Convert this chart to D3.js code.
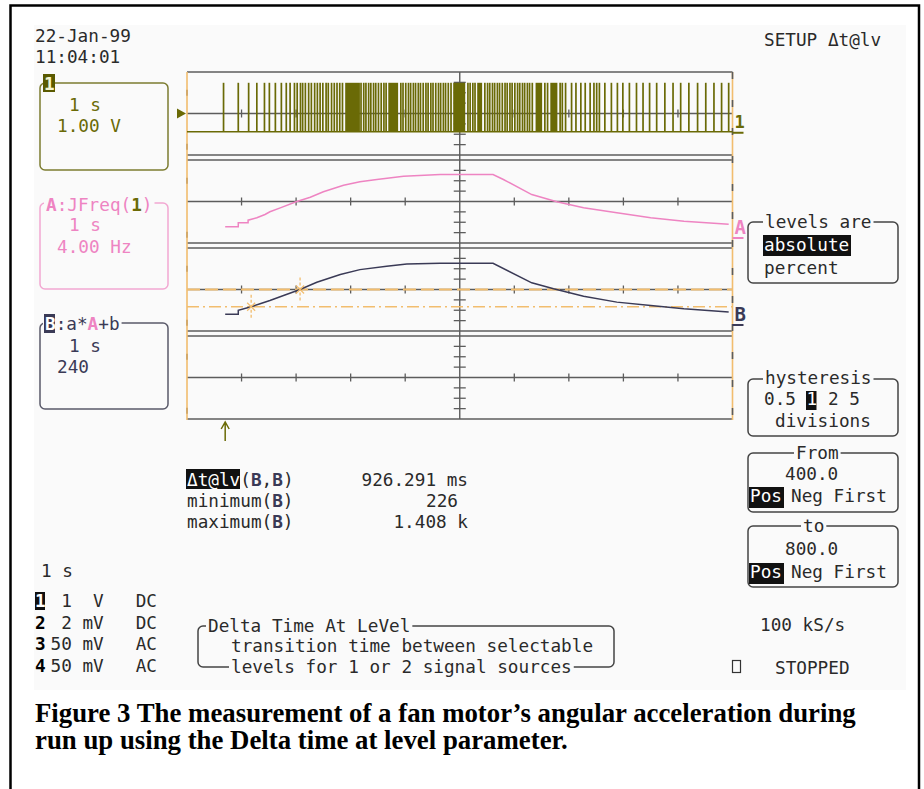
<!DOCTYPE html>
<html lang="en">
<head>
<meta charset="UTF-8">
<title>Fan motor run up - Delta time at level</title>
<script src="https://d3js.org/d3.v7.min.js"></script>
<style>
  body { margin: 0; background: #fff; }
  svg text { font-family: "DejaVu Sans Mono", monospace; font-size: 17.7px; fill: #2a2a2a; white-space: pre; }
  svg text.caption { font-family: "Liberation Serif", "Times New Roman", serif; font-weight: bold; font-size: 26.8px; fill: #000; }
</style>
</head>
<body>
<div id="chart"></div>
<script>
// channel 1: tacho pulses (time in s), solid bursts where pulses merge
const pulseTimes = [0.67, 0.94, 1.13, 1.28, 1.42, 1.51, 1.62, 1.73, 1.82, 1.89, 1.97, 2.02, 2.08, 2.12,
  2.17, 2.23, 2.28, 2.34, 2.39, 2.44, 2.49, 2.55, 2.59, 2.65, 2.70, 2.75, 2.80, 2.85,
  3.19, 3.24, 3.28, 3.33, 3.37, 3.42, 3.46, 3.51, 3.56, 3.61, 3.65,
  3.92, 3.96, 4.01, 4.06, 4.10, 4.15, 4.19, 4.24, 4.28, 4.33, 4.38, 4.42, 4.47, 4.51, 4.56,
  4.61, 4.65, 4.70, 4.74, 4.79, 4.84,
  5.15, 5.19, 5.24, 5.28, 5.46, 5.51, 5.55, 5.60, 5.64, 5.69, 5.73, 5.78, 5.83, 5.87,
  5.92, 5.96, 6.01, 6.06, 6.10, 6.15, 6.19, 6.24, 6.28, 6.33, 6.56, 6.61, 6.84, 6.88, 6.94,
  7.05, 7.13, 7.22, 7.30, 7.39, 7.46, 7.51, 7.56, 7.66, 7.78, 7.89, 7.99, 8.11, 8.24,
  8.36, 8.48, 8.61, 8.76, 8.91, 9.05, 9.20, 9.36, 9.51, 9.66, 9.80, 9.93];
const pulseBursts = [[2.90, 3.17], [3.69, 3.87], [4.88, 5.10], [5.32, 5.41], [6.39, 6.51], [6.66, 6.79]];
const pulseLow = -0.44;   // V
const pulseHigh = 0.74;   // V

// trace A: JFreq(1), Hz
const aTime = [0.70, 0.94, 0.94, 1.12, 1.12, 1.28, 1.43, 1.52, 1.71, 2.00, 2.26, 2.50, 2.87,
  3.17, 3.48, 3.97, 4.64, 5.61, 5.80, 6.32, 6.78, 7.27, 7.88, 8.50, 9.11, 9.93];
const aHz = [0.89, 0.89, 1.28, 1.28, 1.53, 1.76, 2.08, 2.34, 2.72, 3.30, 3.74, 4.27, 4.90,
  5.23, 5.45, 5.77, 5.93, 5.93, 5.45, 4.00, 3.30, 2.72, 2.24, 1.76, 1.43, 1.14];

// trace B: a*A+b
const bTime = [0.70, 0.94, 0.94, 1.16, 1.34, 1.52, 1.77, 2.06, 2.38, 2.81, 3.17, 3.66, 4.03,
  4.64, 5.61, 6.32, 6.72, 7.27, 7.88, 8.50, 9.11, 9.93];
const bVal = [226, 226, 317, 393, 471, 547, 662, 793, 968, 1145, 1260, 1336, 1391,
  1408, 1408, 954, 816, 646, 508, 432, 356, 278];

const levelFrom = 400;
const levelTo = 800;
const triggerTime = 0.70;

const measureNames = ["minimum", "maximum"];
const measureValues = ["226", "1.408 k"];
const deltaValue = "926.291 ms";

const chanRows = [
  { label: "1", value: " 1", unit: " V", coupling: "DC" },
  { label: "2", value: " 2", unit: "mV", coupling: "DC" },
  { label: "3", value: "50", unit: "mV", coupling: "AC" },
  { label: "4", value: "50", unit: "mV", coupling: "AC" }
];

// colours
const olive = "#6a6a06", pink = "#ee84c2", navy = "#3a3a56", orange = "#f2bd6e", grid = "#5c5c5c";

const W = 924, H = 789;
const svg = d3.select("#chart").append("svg").attr("width", W).attr("height", H);

// frame and screen
svg.append("rect").attr("x", 34).attr("y", 25).attr("width", 872).attr("height", 665).attr("fill", "#fafafa");
svg.append("rect").attr("x", 10.5).attr("y", 5.5).attr("width", 908.5).attr("height", 820)
  .attr("fill", "none").attr("stroke", "#000").attr("stroke-width", 2.5);

// scales
const x = d3.scaleLinear().domain([0, 10]).range([187, 732.5]);
const panel = d3.scaleBand().domain([0, 1, 2, 3]).range([72, 419]).paddingInner(5 / 88);
const bw = panel.bandwidth();
const pTop = i => panel(i), pBot = i => panel(i) + bw;
const y1 = d3.scaleLinear().domain([-1, 1]).range([pBot(0), pTop(0)]);
const yA = d3.scaleLinear().domain([-0.67, 7.33]).range([pBot(1), pTop(1)]);
const yB = d3.scaleLinear().domain([-160, 1760]).range([pBot(2), pTop(2)]);

const g = svg.append("g");

// grids
[0, 1, 2, 3].forEach(i => {
  const sub = d3.scaleLinear().domain([-1, 1]).range([pBot(i), pTop(i)]);
  const cy = sub(0);
  [pTop(i), pBot(i)].forEach(yy => {
    g.append("line").attr("x1", x(0)).attr("x2", x(10)).attr("y1", yy).attr("y2", yy)
      .attr("stroke", grid).attr("stroke-width", 1.6);
  });
  g.append("line").attr("x1", x(0)).attr("x2", x(10)).attr("y1", cy).attr("y2", cy)
    .attr("stroke", grid).attr("stroke-width", 1.3);
  x.ticks(10).filter(t => t > 0 && t < 10 && t !== 5).forEach(t => {
    g.append("line").attr("x1", x(t)).attr("x2", x(t)).attr("y1", cy - 4).attr("y2", cy + 4)
      .attr("stroke", grid).attr("stroke-width", 1.3);
  });
  [-0.75, -0.5, -0.25, 0.25, 0.5, 0.75].forEach(v => {
    g.append("line").attr("x1", x(5) - 6).attr("x2", x(5) + 6).attr("y1", sub(v)).attr("y2", sub(v))
      .attr("stroke", grid).attr("stroke-width", 1.3);
  });
  // small marks on left edge
  [-0.8, 0.5].forEach(v => {
    g.append("line").attr("x1", x(0)).attr("x2", x(0)).attr("y1", sub(v) - 3).attr("y2", sub(v) + 3)
      .attr("stroke", grid).attr("stroke-width", 2);
  });
});
g.append("line").attr("x1", x(5)).attr("x2", x(5)).attr("y1", pTop(0)).attr("y2", pBot(3))
  .attr("stroke", grid).attr("stroke-width", 1.4);

// orange side borders
[x(0), x(10)].forEach(xx => {
  g.append("line").attr("x1", xx).attr("x2", xx).attr("y1", pTop(0)).attr("y2", pBot(3) + 1)
    .attr("stroke", orange).attr("stroke-width", 1.6);
});
g.append("line").attr("x1", x(10)).attr("x2", x(10)).attr("y1", pTop(0)).attr("y2", pBot(3))
  .attr("stroke", grid).attr("stroke-width", 1.6).attr("stroke-dasharray", "7,21");

// channel 1 pulses
g.append("line").attr("x1", x(0)).attr("x2", x(10)).attr("y1", y1(pulseLow)).attr("y2", y1(pulseLow))
  .attr("stroke", olive).attr("stroke-width", 1.6);
g.selectAll(".pulse").data(pulseTimes).join("line").attr("class", "pulse")
  .attr("x1", d => x(d)).attr("x2", d => x(d))
  .attr("y1", y1(pulseLow)).attr("y2", y1(pulseHigh))
  .attr("stroke", olive).attr("stroke-width", 1.7);
g.selectAll(".burst").data(pulseBursts).join("rect").attr("class", "burst")
  .attr("x", d => x(d[0])).attr("width", d => x(d[1]) - x(d[0]))
  .attr("y", y1(pulseHigh)).attr("height", y1(pulseLow) - y1(pulseHigh))
  .attr("fill", olive);

// level lines on B
g.append("line").attr("x1", x(0)).attr("x2", x(10)).attr("y1", yB(levelTo)).attr("y2", yB(levelTo))
  .attr("stroke", orange).attr("stroke-width", 1.8).attr("stroke-dasharray", "13,5");
g.append("line").attr("x1", x(0)).attr("x2", x(10)).attr("y1", yB(levelFrom)).attr("y2", yB(levelFrom))
  .attr("stroke", orange).attr("stroke-width", 1.4).attr("stroke-dasharray", "12,4,2,4");

// traces
const lineA = d3.line().x((d, i) => x(aTime[i])).y(d => yA(d));
g.append("path").datum(aHz).attr("d", lineA).attr("fill", "none").attr("stroke", pink).attr("stroke-width", 1.5);
const lineB = d3.line().x((d, i) => x(bTime[i])).y(d => yB(d));
g.append("path").datum(bVal).attr("d", lineB).attr("fill", "none").attr("stroke", navy).attr("stroke-width", 1.5);

// level crossing markers (first rising crossing)
function crossTime(level) {
  for (let i = 0; i < bVal.length - 1; i++) {
    if (bVal[i] < level && bVal[i + 1] >= level) {
      return bTime[i] + (level - bVal[i]) / (bVal[i + 1] - bVal[i]) * (bTime[i + 1] - bTime[i]);
    }
  }
  return null;
}
[levelFrom, levelTo].forEach(lv => {
  const cx = x(crossTime(lv)), cy = yB(lv);
  g.append("line").attr("x1", cx).attr("x2", cx).attr("y1", cy - 12).attr("y2", cy + 12)
    .attr("stroke", orange).attr("stroke-width", 1.3).attr("stroke-dasharray", "3,2");
  g.append("path").attr("d", `M${cx - 4},${cy - 4}L${cx + 4},${cy + 4}M${cx - 4},${cy + 4}L${cx + 4},${cy - 4}`)
    .attr("stroke", orange).attr("stroke-width", 1.2);
});

// trigger markers
g.append("path").attr("d", `M${x(0) - 10},${y1(0) - 5}L${x(0) - 1},${y1(0)}L${x(0) - 10},${y1(0) + 5}Z`).attr("fill", olive);
const tx = x(triggerTime);
g.append("path").attr("d", `M${tx},${pBot(3) + 22}V${pBot(3) + 4}M${tx - 4},${pBot(3) + 10}L${tx},${pBot(3) + 3}L${tx + 4},${pBot(3) + 10}`)
  .attr("fill", "none").attr("stroke", olive).attr("stroke-width", 1.5);

// right-edge trace labels
const rx = x(10) + 2;
svg.append("text").attr("x", rx).attr("y", y1(0) + 14).text("1").attr("font-weight", "bold").style("fill", olive).style("font-size", "17px");
svg.append("line").attr("x1", x(10)).attr("x2", rx + 9).attr("y1", y1(pulseLow) + 1).attr("y2", y1(pulseLow) + 1).attr("stroke", olive).attr("stroke-width", 2);
svg.append("text").attr("x", rx).attr("y", 234).text("A").attr("font-weight", "bold").style("fill", pink).style("font-size", "19px");
svg.append("line").attr("x1", x(10)).attr("x2", rx + 9).attr("y1", 238).attr("y2", 238).attr("stroke", pink).attr("stroke-width", 2);
svg.append("text").attr("x", rx).attr("y", 321).text("B").attr("font-weight", "bold").style("fill", navy).style("font-size", "19px");
svg.append("line").attr("x1", x(10)).attr("x2", rx + 9).attr("y1", 325).attr("y2", 325).attr("stroke", navy).attr("stroke-width", 2);

// helpers
function txt(xx, yy, s, color) {
  const t = svg.append("text").attr("x", xx).attr("y", yy).text(s);
  if (color) t.style("fill", color);
  return t;
}
function hilite(xx, yy, w, h, color) {
  svg.append("rect").attr("x", xx).attr("y", yy).attr("width", w).attr("height", h).attr("fill", color || "#111");
}
function box(x0, y0, x1, y1b, color) {
  svg.append("rect").attr("x", x0).attr("y", y0).attr("width", x1 - x0).attr("height", y1b - y0)
    .attr("rx", 5).attr("fill", "none").attr("stroke", color).attr("stroke-width", 1.5);
}
function mask(textSel) {
  const b = textSel.node().getBBox();
  svg.insert("rect", () => textSel.node()).attr("x", b.x - 2).attr("y", b.y + 3).attr("width", b.width + 4)
    .attr("height", b.height - 6).attr("fill", "#fafafa");
  return textSel;
}

// header
txt(35, 42, "22-Jan-99");
txt(35, 63, "11:04:01");
txt(764, 46, "SETUP Δt@lv");

// channel 1 box
box(40, 83, 168, 170, "#7c7c30");
svg.append("rect").attr("x", 43).attr("y", 74).attr("width", 12).attr("height", 18).attr("fill", "#5a5a00");
txt(44, 90, "1", "#f4f4d0").attr("font-weight", "bold");
txt(69, 111, "1 s", olive);
txt(57, 132, "1.00 V", olive);

// A box
box(40, 203, 168, 289, "#f2a8d2");
const aTitle = svg.append("text").attr("x", 46).attr("y", 211);
aTitle.append("tspan").text("A").attr("font-weight", "bold").style("fill", pink);
aTitle.append("tspan").text(":JFreq(").style("fill", pink);
aTitle.append("tspan").text("1").attr("font-weight", "bold").style("fill", olive);
aTitle.append("tspan").text(")").style("fill", pink);
mask(aTitle);
txt(69, 231, "1 s", pink);
txt(57, 253, "4.00 Hz", pink);

// B box
box(40, 323, 168, 409, "#5a5a6a");
const bTitle = svg.append("text").attr("x", 45).attr("y", 330);
bTitle.append("tspan").text("B").attr("font-weight", "bold").style("fill", "#fff");
bTitle.append("tspan").text(":a*").style("fill", navy);
bTitle.append("tspan").text("A").attr("font-weight", "bold").style("fill", pink);
bTitle.append("tspan").text("+b").style("fill", navy);
mask(bTitle);
svg.insert("rect", () => bTitle.node()).attr("x", 44).attr("y", 314).attr("width", 11).attr("height", 19).attr("fill", navy);
txt(69, 352, "1 s", navy);
txt(57, 373, "240", navy);

// measurements
hilite(186, 469, 54, 20);
const m0 = svg.append("text").attr("x", 187).attr("y", 486);
m0.append("tspan").text("Δt@lv").style("fill", "#fff");
m0.append("tspan").text("(");
m0.append("tspan").text("B").attr("font-weight", "bold").style("fill", navy);
m0.append("tspan").text(",");
m0.append("tspan").text("B").attr("font-weight", "bold").style("fill", navy);
m0.append("tspan").text(")");
txt(468, 486, deltaValue).attr("text-anchor", "end");
measureNames.forEach((n, i) => {
  const t = svg.append("text").attr("x", 187).attr("y", 507 + i * 21);
  t.append("tspan").text(n + "(");
  t.append("tspan").text("B").attr("font-weight", "bold").style("fill", navy);
  t.append("tspan").text(")");
});
txt(458, 507, measureValues[0]).attr("text-anchor", "end");
txt(468, 528, measureValues[1]).attr("text-anchor", "end");

// right menu
box(748, 222, 898, 283, "#444");
mask(txt(765, 228, "levels are"));
hilite(763, 235, 88, 21);
txt(764, 251, "absolute", "#fff");
txt(764, 274, "percent");

box(748, 379, 898, 436, "#444");
mask(txt(765, 384, "hysteresis"));
hilite(806, 391, 10.5, 19);
txt(764, 405, "0.5");
txt(806.6, 405, "1", "#fff");
txt(828, 405, "2 5");
txt(775, 427, "divisions");

box(748, 453, 898, 512, "#444");
mask(txt(796, 459, "From"));
txt(785, 480, "400.0");
hilite(749, 487, 35, 21);
txt(750, 502, "Pos", "#fff");
txt(791, 502, "Neg First");

box(748, 526, 898, 587, "#444");
mask(txt(803, 532, "to"));
txt(785, 555, "800.0");
hilite(749, 563, 35, 21);
txt(750, 578, "Pos", "#fff");
txt(791, 578, "Neg First");

txt(760, 631, "100 kS/s");
svg.append("rect").attr("x", 732.5).attr("y", 660.5).attr("width", 8).attr("height", 12)
  .attr("fill", "none").attr("stroke", "#333").attr("stroke-width", 1.2);
txt(775, 674, "STOPPED");

// bottom-left channel settings
txt(41, 577, "1 s");
chanRows.forEach((r, i) => {
  const yy = 607 + i * 21.7;
  if (i === 0) {
    svg.append("rect").attr("x", 35).attr("y", yy - 15).attr("width", 10).attr("height", 18).attr("fill", "#111");
    txt(35, yy, r.label, "#fff").attr("font-weight", "bold");
  } else {
    txt(35, yy, r.label).attr("font-weight", "bold").style("fill", "#000");
  }
  txt(50.5, yy, `${r.value} ${r.unit}   ${r.coupling}`);
});

// help box
box(198, 626, 614, 667, "#444");
mask(txt(208, 632, "Delta Time At LeVel"));
txt(231, 652, "transition time between selectable");
mask(txt(231, 673, "levels for 1 or 2 signal sources"));

// caption
svg.append("text").attr("class", "caption").attr("x", 35).attr("y", 722)
  .text("Figure 3 The measurement of a fan motor’s angular acceleration during");
svg.append("text").attr("class", "caption").attr("x", 35).attr("y", 749)
  .text("run up using the Delta time at level parameter.");
</script>
</body>
</html>
